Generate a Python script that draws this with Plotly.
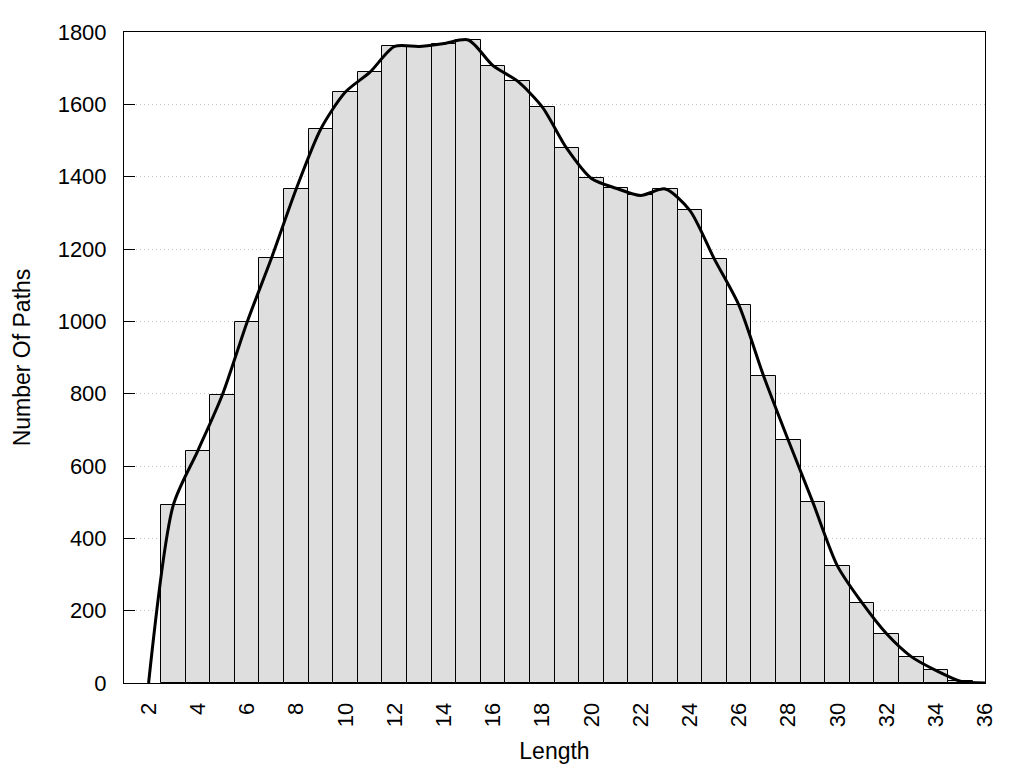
import plotly.graph_objects as go

lengths = list(range(3, 36))
counts = [491, 642, 797, 997, 1176, 1366, 1532, 1634, 1689, 1760, 1760, 1768, 1778,
          1707, 1664, 1593, 1478, 1395, 1368, 1348, 1366, 1307, 1172, 1044, 849, 672,
          500, 324, 222, 136, 73, 35, 5]
curve_lengths = [2] + lengths + [36]
curve_counts = [0] + counts + [0]
x_ticks = list(range(2, 37, 2))
y_ticks = list(range(0, 1801, 200))

font = "Liberation Sans, Arial, sans-serif"

fig = go.Figure()
fig.add_trace(go.Bar(
    x=lengths, y=counts, width=1,
    marker=dict(color="#dedede", line=dict(color="black", width=1)),
    showlegend=False,
))
fig.add_trace(go.Scatter(
    x=curve_lengths, y=curve_counts, mode="lines",
    line=dict(color="black", width=3, shape="spline", smoothing=0.75),
    showlegend=False,
))

fig.update_layout(
    width=1024, height=768,
    margin=dict(l=116, r=47, t=20, b=93),
    plot_bgcolor="white", paper_bgcolor="white",
    font=dict(family=font, size=22, color="black"),
    bargap=0,
    xaxis=dict(
        range=[1, 36], tickvals=x_ticks, ticktext=[str(v) for v in x_ticks],
        tickangle=-90, showgrid=False, zeroline=False,
        showline=True, linecolor="black", linewidth=1, mirror=True,
        ticks="", ticklabelstandoff=10,
        title=dict(text="Length", font=dict(size=23), standoff=16),
    ),
    yaxis=dict(
        range=[0, 1800], tickvals=y_ticks, ticktext=[str(v) for v in y_ticks],
        showgrid=True, gridcolor="#c4c4c4", griddash="1px,3px", gridwidth=1,
        zeroline=False,
        showline=True, linecolor="black", linewidth=1, mirror=True,
        ticks="inside", ticklen=11, tickcolor="black", ticklabelstandoff=12,
        title=dict(text="Number Of Paths", font=dict(size=23), standoff=20),
    ),
)

fig.write_html("out.html")
